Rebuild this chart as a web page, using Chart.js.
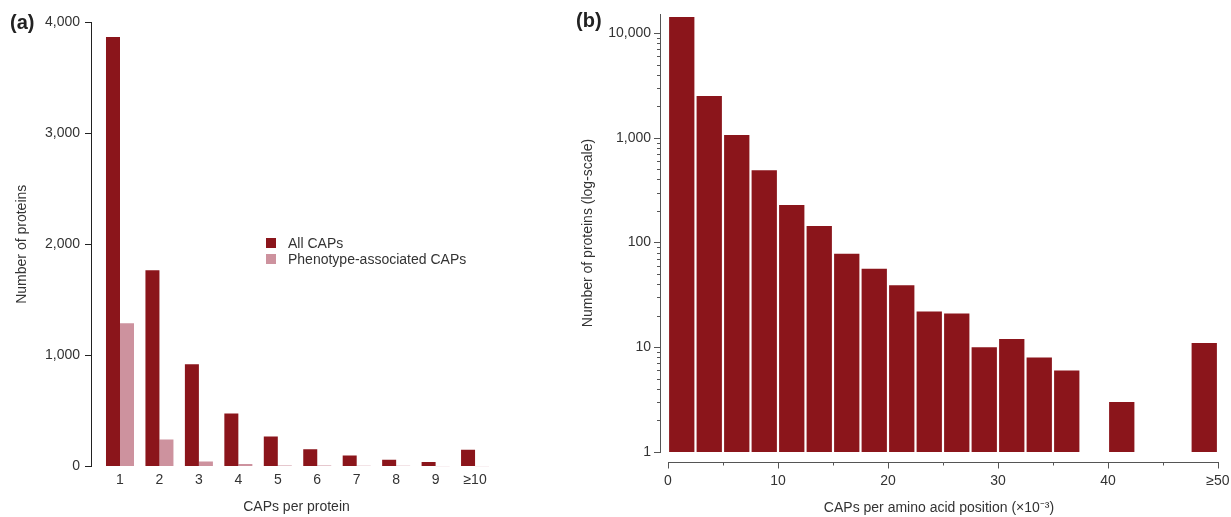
<!DOCTYPE html>
<html>
<head>
<meta charset="utf-8">
<script src="https://cdn.jsdelivr.net/npm/chart.js@4.4.1/dist/chart.umd.min.js"></script>
<style>
  html, body { margin: 0; padding: 0; background: #fff; }
  body { width: 1231px; height: 517px; position: relative; overflow: hidden;
         font-family: "Liberation Sans", Arial, sans-serif; color: #333; }
  canvas { position: absolute; top: 0; }
  #chartA { left: 0; }
  #chartB { left: 560px; }
  .tag { position: absolute; font-weight: bold; font-size: 20px; line-height: 24px; color: #222; }
  #legend { position: absolute; left: 266px; top: 235px; font-size: 14px; }
  .item { display: flex; align-items: center; height: 16px; white-space: nowrap; }
  .swatch { width: 10px; height: 10px; margin-right: 12px; }
</style>
</head>
<body>
<canvas id="chartA" width="510" height="517"></canvas>
<canvas id="chartB" width="671" height="517"></canvas>
<div class="tag" style="left:10px; top:10px;">(a)</div>
<div class="tag" style="left:576px; top:8px;">(b)</div>
<div id="legend"></div>
<script>
// panel (a): CAPs per protein
const capCounts = ['1', '2', '3', '4', '5', '6', '7', '8', '9', '≥10'];
const allCaps = [3865, 1765, 920, 477, 270, 155, 98, 60, 40, 150];
const phenoCaps = [1290, 243, 45, 22, 9, 8, 7, 7, 3, 3];
const yTicksA = [0, 1000, 2000, 3000, 4000];

// panel (b): CAPs per amino acid position, bins of 2.5 (x10^-3)
const binWidth = 2.5;
const binStarts = [0, 2.5, 5, 7.5, 10, 12.5, 15, 17.5, 20, 22.5, 25, 27.5, 30, 32.5, 35, 37.5, 40, 42.5, 45, 47.5];
const binCounts = [14200, 2500, 1060, 490, 228, 144, 78, 56, 39, 22, 21, 10, 12, 8, 6, null, 3, null, null, 11];
const xTicksB = [0, 10, 20, 30, 40, 50];
const xMinorB = [5, 15, 25, 35, 45];
const yTicksB = [1, 10, 100, 1000, 10000];

const red = '#8b151b';
const pink = '#cd929e';

Chart.defaults.font.family = '"Liberation Sans", Arial, sans-serif';
Chart.defaults.font.size = 14;
Chart.defaults.color = '#333';
Chart.defaults.animation = false;

const fmt = v => Number(v).toLocaleString('en-US');
// keep the plot area where the layout padding puts it
const noEdgePad = s => { s.paddingLeft = 0; s.paddingRight = 0; s.paddingTop = 0; s.paddingBottom = 0; };

const chartA = new Chart(document.getElementById('chartA'), {
  type: 'bar',
  data: {
    datasets: [
      {
        label: 'All CAPs',
        data: capCounts.map((c, i) => ({ x: i + 1, y: allCaps[i] })),
        backgroundColor: red,
        categoryPercentage: 0.71,
        barPercentage: 1
      },
      {
        label: 'Phenotype-associated CAPs',
        data: capCounts.map((c, i) => ({ x: i + 1, y: phenoCaps[i] })),
        backgroundColor: pink,
        categoryPercentage: 0.71,
        barPercentage: 1
      }
    ]
  },
  options: {
    responsive: false,
    layout: { padding: { top: 22, right: 8, left: 0, bottom: 0 } },
    plugins: { legend: { display: false }, tooltip: { enabled: false } },
    scales: {
      x: {
        type: 'linear',
        min: 0.265,
        max: 10.683,
        offset: false,
        afterBuildTicks: s => { s.ticks = capCounts.map((c, i) => ({ value: i + 1 })); },
        afterFit: s => { s.height = 50.5; noEdgePad(s); },
        ticks: { callback: v => capCounts[v - 1], autoSkip: false, maxRotation: 0, padding: 5.5 },
        grid: { display: false, drawTicks: false, offset: false },
        border: { display: false },
        title: { display: true, text: 'CAPs per protein', padding: { top: 0, bottom: 1.6 } }
      },
      y: {
        min: 0,
        max: 4000,
        afterBuildTicks: s => { s.ticks = yTicksA.map(v => ({ value: v })); },
        afterFit: s => { s.width = 91; noEdgePad(s); },
        ticks: { callback: fmt, padding: 5 },
        grid: { drawOnChartArea: false, tickLength: 6, tickColor: '#222', tickWidth: 1 },
        border: { color: '#222', width: 1 },
        title: { display: true, text: 'Number of proteins', padding: { top: 13.6, bottom: 0 } }
      }
    }
  }
});

// html legend from the datasets
const legend = document.getElementById('legend');
chartA.data.datasets.forEach(ds => {
  const row = document.createElement('div');
  row.className = 'item';
  row.innerHTML = `<span class="swatch" style="background:${ds.backgroundColor}"></span><span>${ds.label}</span>`;
  legend.appendChild(row);
});

// axis lines and tick marks for panel (b), drawn from its scales
const axisB = {
  id: 'axisB',
  afterDraw(chart) {
    const { ctx, chartArea, scales: { x, y } } = chart;
    ctx.save();
    ctx.strokeStyle = '#555';
    ctx.lineWidth = 1;
    ctx.beginPath();
    const left = chartArea.left;
    yTicksB.forEach(v => {
      const py = Math.round(y.getPixelForValue(v)) + 0.5;
      ctx.moveTo(left - 6, py);
      ctx.lineTo(left, py);
      for (let k = 2; k < 10; k++) {
        if (v * k > y.max) break;
        const pm = Math.round(y.getPixelForValue(v * k)) + 0.5;
        ctx.moveTo(left - 3, pm);
        ctx.lineTo(left, pm);
      }
    });
    const ay = Math.round(chartArea.bottom + 10) + 0.5;
    ctx.moveTo(Math.round(x.getPixelForValue(0)), ay);
    ctx.lineTo(Math.round(x.getPixelForValue(50)) + 1, ay);
    xTicksB.forEach(v => {
      const px = Math.round(x.getPixelForValue(v)) + 0.5;
      ctx.moveTo(px, ay);
      ctx.lineTo(px, ay + 6);
    });
    xMinorB.forEach(v => {
      const px = Math.round(x.getPixelForValue(v)) + 0.5;
      ctx.moveTo(px, ay);
      ctx.lineTo(px, ay + 3);
    });
    ctx.stroke();
    ctx.restore();
  }
};

new Chart(document.getElementById('chartB'), {
  type: 'bar',
  data: {
    datasets: [{
      label: 'Proteins',
      data: binStarts.map((s, i) => ({ x: s + binWidth / 2, y: binCounts[i] })),
      backgroundColor: red,
      base: 1,
      categoryPercentage: 1,
      barPercentage: 0.92
    }]
  },
  options: {
    responsive: false,
    layout: { padding: { top: 14, right: 13, left: 0, bottom: 0 } },
    plugins: { legend: { display: false }, tooltip: { enabled: false } },
    scales: {
      x: {
        type: 'linear',
        min: -0.727,
        max: 50,
        offset: false,
        afterBuildTicks: s => { s.ticks = xTicksB.map(v => ({ value: v })); },
        afterFit: s => { s.height = 65; noEdgePad(s); },
        ticks: { callback: v => (v === 50 ? '≥50' : String(v)), autoSkip: false, maxRotation: 0, padding: 21 },
        grid: { display: false, drawTicks: false, offset: false },
        border: { display: false },
        title: { display: true, text: 'CAPs per amino acid position (×10⁻³)', padding: { top: 0, bottom: 0.6 } }
      },
      y: {
        type: 'logarithmic',
        min: 1,
        max: 15180,
        afterBuildTicks: s => { s.ticks = yTicksB.map(v => ({ value: v, major: true })); },
        afterFit: s => { s.width = 100; noEdgePad(s); },
        ticks: { callback: fmt, autoSkip: false, padding: 9 },
        grid: { display: false, drawTicks: false },
        border: { display: true, color: '#555', width: 1 },
        title: { display: true, text: 'Number of proteins (log-scale)', padding: { top: 19.6, bottom: 0 } }
      }
    }
  },
  plugins: [axisB]
});
</script>
</body>
</html>
